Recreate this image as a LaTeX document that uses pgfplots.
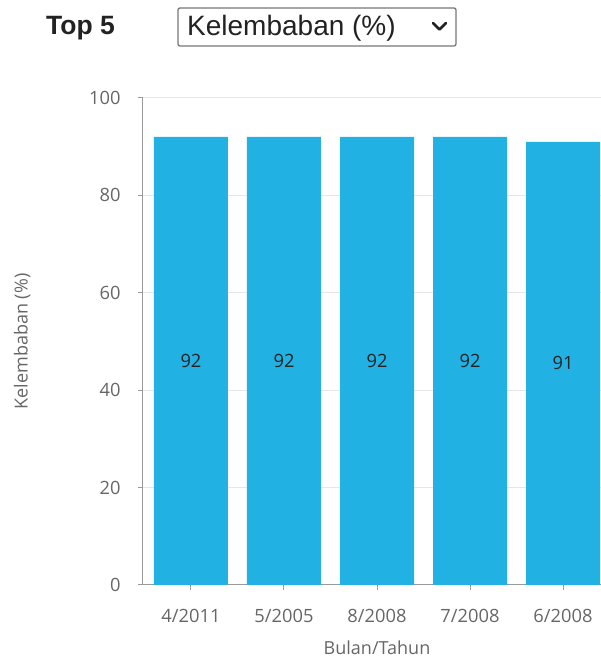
\documentclass[border=0pt]{standalone}
\usepackage{fontspec}
\setmainfont{Open Sans}
\newfontfamily\arialfont{Liberation Sans}
\usepackage{pgfplots}
\pgfplotsset{compat=1.18}

\definecolor{barblue}{HTML}{22B1E3}
\definecolor{ticktext}{HTML}{666666}
\definecolor{gridgray}{HTML}{E6E6E6}
\definecolor{axisgray}{HTML}{9A9A9A}
\definecolor{darktext}{HTML}{222222}
\definecolor{boxgray}{HTML}{777777}

\begin{document}
\begin{tikzpicture}[x=1pt,y=1pt]
% header: title and selector
\node[anchor=west, inner sep=0pt, text=darktext] at (46,631)
  {\arialfont\bfseries\fontsize{26.5}{31}\selectfont Top 5};
\draw[boxgray, line width=1.3pt, rounded corners=2pt] (178,613) rectangle (456,651);
\node[anchor=west, inner sep=0pt, text=darktext] at (187,631)
  {\arialfont\fontsize{28}{33}\selectfont Kelembaban (\%)};
\draw[darktext, line width=2.8pt, line cap=round, line join=round]
  (433,636) -- (439.5,629.5) -- (446,636);

\begin{axis}[
  at={(143pt,74pt)}, anchor=south west,
  scale only axis, width=468pt, height=487pt,
  xmin=-0.516, xmax=4.516, ymin=0, ymax=100,
  xtick={0,1,2,3,4},
  xticklabels={4/2011,5/2005,8/2008,7/2008,6/2008},
  ytick={0,20,40,60,80,100},
  axis x line*=bottom, axis y line*=left,
  axis line style={axisgray, line width=1pt},
  every outer x axis line/.append style={-},
  every outer y axis line/.append style={-},
  tick align=outside, major tick length=5pt,
  tick style={axisgray, line width=1pt},
  ymajorgrids, grid style={gridgray, line width=1pt},
  /pgf/number format/assume math mode=true,
  tick label style={font=\fontsize{18.3}{21}\selectfont, text=ticktext},
  xticklabel style={anchor=center, yshift=-26pt},
  yticklabel style={anchor=east, xshift=-14pt},
  xlabel={Bulan/Tahun}, ylabel={Kelembaban (\%)},
  label style={font=\fontsize{18}{21}\selectfont, text=ticktext},
  xlabel style={at={(axis description cs:0.5,0)}, anchor=center, yshift=-63pt},
  ylabel style={at={(axis description cs:-0.258,0.5)}, anchor=center},
  ybar, bar width=74pt,
  nodes near coords,
  visualization depends on={rawy \as \rawy},
  every node near coord/.append style={anchor=center, text=darktext,
    font=\fontsize{18.3}{21}\selectfont, yshift=-\rawy*2.435pt},
  clip=false,
]
\addplot[fill=barblue, draw=none] coordinates {(0,92) (1,92) (2,92) (3,92) (4,91)};
\end{axis}
\pgfresetboundingbox
\path[use as bounding box] (0,0) rectangle (601,659);
\end{tikzpicture}
\end{document}
